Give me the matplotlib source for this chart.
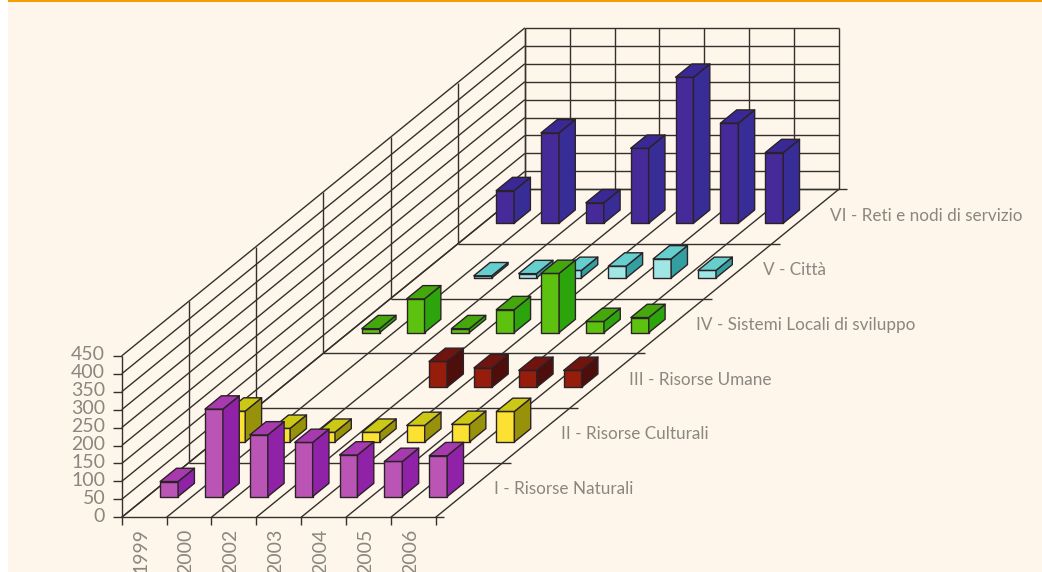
import matplotlib
matplotlib.use('Agg')
import matplotlib.pyplot as plt
from matplotlib.patches import Polygon, Rectangle

years = ['1999', '2000', '2002', '2003', '2004', '2005', '2006']
series_names = ['I - Risorse Naturali', 'II - Risorse Culturali', 'III - Risorse Umane',
                'IV - Sistemi Locali di sviluppo', 'V - Città', 'VI - Reti e nodi di servizio']
y_ticks = [0, 50, 100, 150, 200, 250, 300, 350, 400, 450]

# None means no bar for that year
naturali = [42, 244, 172, 151, 116, 98, 114]
culturali = [86, 38, 27, 27, 46, 49, 85]
umane = [None, None, None, 72, 54, 47, 47]
sistemi = [11, 94, 11, 64, 165, 31, 42]
citta = [None, 6, 12, 21, 33, 53, 21]
reti = [91, 252, 57, 209, 407, 279, 197]
all_series = [naturali, culturali, umane, sistemi, citta, reti]

# front, side, top
colors = [('#BB55B5', '#9022A8', '#A83AB0'),
          ('#FBE232', '#98920A', '#CCC816'),
          ('#961C0C', '#4D0E0C', '#701410'),
          ('#5DC110', '#2CA50C', '#44A80C'),
          ('#A0E6E4', '#339FA0', '#66CFCE'),
          ('#472A9A', '#382C96', '#3A2894')]

# oblique projection, in image pixels
X0, Y0 = 121.7, 517.3
CELL_W = 44.85
DEPTH_DX, DEPTH_DY = 67.2, -54.67
PX_PER_UNIT = 161.4 / 450
BAR_W = 0.40
BAR_D = 0.243

LINE = '#33312c'
TEXT = '#8a8780'
BG = '#FFF6EB'


def proj(cat, depth, val=0):
    return (X0 + cat * CELL_W + depth * DEPTH_DX,
            Y0 + depth * DEPTH_DY - val * PX_PER_UNIT)


def line(ax, p, q, lw=1.0, color=LINE):
    ax.plot([p[0], q[0]], [p[1], q[1]], color=color, lw=lw, solid_capstyle='butt', zorder=2)


def draw_bar(ax, cat, depth, val, cols):
    x0 = cat + 0.49 - BAR_W / 2
    x1 = cat + 0.49 + BAR_W / 2
    d0 = depth + 0.5 - BAR_D / 2
    d1 = depth + 0.5 + BAR_D / 2
    front = [proj(x0, d0), proj(x1, d0), proj(x1, d0, val), proj(x0, d0, val)]
    side = [proj(x1, d0), proj(x1, d1), proj(x1, d1, val), proj(x1, d0, val)]
    top = [proj(x0, d0, val), proj(x1, d0, val), proj(x1, d1, val), proj(x0, d1, val)]
    for pts, c in zip((front, side, top), cols):
        ax.add_patch(Polygon(pts, closed=True, facecolor=c, edgecolor='#2a2226',
                             lw=1.0, joinstyle='round', zorder=3))


fig = plt.figure(figsize=(10.42, 5.72), dpi=100, facecolor='white')
ax = fig.add_axes([0, 0, 1, 1])
ax.set_xlim(0, 1042)
ax.set_ylim(572, 0)
ax.axis('off')
plt.rcParams['font.family'] = ['Lato', 'DejaVu Sans']

ax.add_patch(Rectangle((8, 0), 1034, 572, facecolor=BG, edgecolor='none', zorder=0))
ax.add_patch(Rectangle((8, 0), 1034, 1.6, facecolor='#F5A000', edgecolor='none', zorder=1))

n_cat = len(years)
n_ser = len(series_names)

# walls and floor
for v in y_ticks:
    line(ax, proj(0, 0, v), proj(0, n_ser, v))
    line(ax, proj(0, n_ser, v), proj(n_cat, n_ser, v))
    tx, ty = proj(0, 0, v)
    line(ax, (tx - 9, ty), (tx, ty))
    ax.text(tx - 16.5, ty - 1, str(v), ha='right', va='center', fontsize=14,
            color=TEXT)

for d in range(1, n_ser + 1):
    line(ax, proj(0, d), proj(0, d, 450))
for c in range(n_cat + 1):
    line(ax, proj(c, 0), proj(c, n_ser))
    line(ax, proj(c, n_ser), proj(c, n_ser, 450))
    tx, ty = proj(c, 0)
    line(ax, (tx, ty), (tx, ty + 8))
for d in range(n_ser + 1):
    px, py = proj(n_cat, d)
    line(ax, proj(0, d), (px + 8, py))
line(ax, proj(0, 0, 0), proj(0, 0, 450))

# back series first so the front ones cover them
for d in range(n_ser - 1, -1, -1):
    for c, val in enumerate(all_series[d]):
        if val is not None:
            draw_bar(ax, c, d, val, colors[d])

for c, y in enumerate(years):
    tx, ty = proj(c + 0.5, 0)
    ax.text(tx - 3, ty + 11, y, rotation=90, ha='center', va='top', fontsize=14,
            color=TEXT, clip_on=True)

for d, name in enumerate(series_names):
    tx, ty = proj(n_cat, d + 0.5)
    ax.text(tx + 25, ty - 1, name, ha='left', va='center', fontsize=12.3,
            color=TEXT)

fig.savefig('out.png', dpi=100, facecolor='white')
